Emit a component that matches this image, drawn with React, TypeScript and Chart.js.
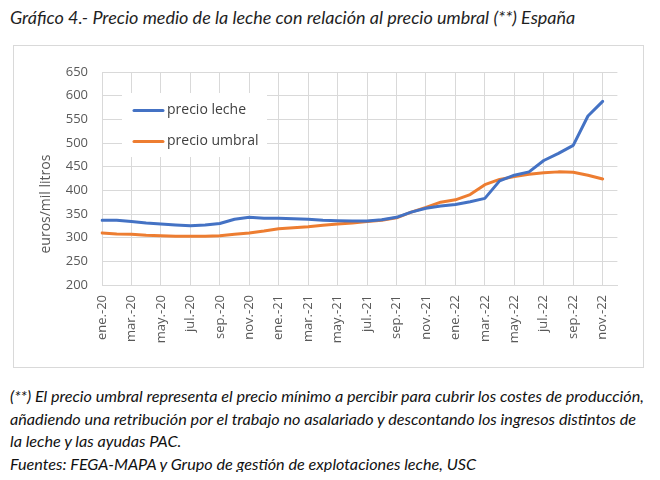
import { useEffect, useRef } from 'react';
import { Chart, registerables } from 'chart.js';

Chart.register(...registerables);

const months = [
  'ene.-20', 'feb.-20', 'mar.-20', 'abr.-20', 'may.-20', 'jun.-20', 'jul.-20', 'ago.-20', 'sep.-20', 'oct.-20', 'nov.-20', 'dic.-20',
  'ene.-21', 'feb.-21', 'mar.-21', 'abr.-21', 'may.-21', 'jun.-21', 'jul.-21', 'ago.-21', 'sep.-21', 'oct.-21', 'nov.-21', 'dic.-21',
  'ene.-22', 'feb.-22', 'mar.-22', 'abr.-22', 'may.-22', 'jun.-22', 'jul.-22', 'ago.-22', 'sep.-22', 'oct.-22', 'nov.-22', 'dic.-22',
];

const precioLeche = [
  337, 337, 334, 331, 329, 327, 325, 327, 330, 339, 343, 341,
  341, 340, 339, 337, 336, 335, 335, 338, 343, 354, 362, 367,
  370, 376, 383, 420, 432, 439, 463, 478, 495, 557, 588, null,
];

const precioUmbral = [
  310, 308, 307, 305, 304, 303, 303, 303, 304, 307, 310, 314,
  319, 321, 323, 326, 329, 331, 334, 337, 342, 354, 364, 375,
  380, 391, 412, 423, 429, 434, 437, 439, 438, 432, 424, null,
];

const seriesNames = ['precio leche', 'precio umbral'];
const yAxisTitle = 'euros/mil litros';
const titleText = 'Gráfico 4.- Precio medio de la leche con relación al precio umbral (**) España';
const noteLines = [
  '(**) El precio umbral representa el precio mínimo a percibir para cubrir los costes de producción,',
  'añadiendo una retribución por el trabajo no asalariado y descontando los ingresos distintos de',
  'la leche y las ayudas PAC.',
  'Fuentes: FEGA-MAPA y Grupo de gestión de explotaciones leche, USC',
];

const FONT = '"Open Sans", sans-serif';

const insideLegend = {
  id: 'insideLegend',
  afterDraw(chart: any) {
    const { ctx, chartArea } = chart;
    const x0 = chartArea.left + 20;
    const y0 = chartArea.top + 21;
    ctx.save();
    ctx.fillStyle = '#ffffff';
    ctx.fillRect(x0, y0, 145, 64);
    chart.data.datasets.forEach((ds: any, i: number) => {
      const cy = y0 + 17.5 + i * 31;
      ctx.strokeStyle = ds.borderColor;
      ctx.lineWidth = 3;
      ctx.lineCap = 'round';
      ctx.beginPath();
      ctx.moveTo(x0 + 12, cy);
      ctx.lineTo(x0 + 41, cy);
      ctx.stroke();
      ctx.fillStyle = '#404040';
      ctx.font = `14px ${FONT}`;
      ctx.textBaseline = 'middle';
      ctx.textAlign = 'left';
      ctx.fillText(ds.label, x0 + 45, cy);
    });
    ctx.restore();
  },
};

const yTitlePlugin = {
  id: 'yTitlePlugin',
  afterDraw(chart: any) {
    const { ctx, chartArea } = chart;
    ctx.save();
    ctx.translate(chartArea.left - 55.5, chartArea.top + (chartArea.bottom - chartArea.top) * 0.62);
    ctx.rotate(-Math.PI / 2);
    ctx.fillStyle = '#595959';
    ctx.font = `14px ${FONT}`;
    ctx.textAlign = 'center';
    ctx.textBaseline = 'middle';
    ctx.fillText(yAxisTitle, 0, 0);
    ctx.restore();
  },
};

export default function App() {
  const canvasRef = useRef<HTMLCanvasElement | null>(null);

  useEffect(() => {
    if (!canvasRef.current) return;
    const chart = new Chart(canvasRef.current, {
      type: 'line',
      data: {
        labels: months,
        datasets: [
          {
            label: seriesNames[0],
            data: precioLeche,
            borderColor: '#4472C4',
            backgroundColor: '#4472C4',
            borderWidth: 3,
            pointRadius: 0,
            tension: 0,
            borderCapStyle: 'round',
            borderJoinStyle: 'round',
          },
          {
            label: seriesNames[1],
            data: precioUmbral,
            borderColor: '#ED7D31',
            backgroundColor: '#ED7D31',
            borderWidth: 3,
            pointRadius: 0,
            tension: 0,
            borderCapStyle: 'round',
            borderJoinStyle: 'round',
          },
        ],
      },
      options: {
        animation: false,
        responsive: false,
        layout: { padding: { top: 27, right: 21, left: 0, bottom: 0 } },
        plugins: {
          legend: { display: false },
          tooltip: { enabled: false },
        },
        scales: {
          x: {
            type: 'category',
            offset: false,
            grid: {
              drawTicks: false,
              color: (c: any) => (c.index % 2 === 0 ? '#d9d9d9' : 'rgba(0,0,0,0)'),
              lineWidth: 1,
            },
            border: { color: '#d9d9d9' },
            ticks: {
              autoSkip: false,
              maxRotation: 90,
              minRotation: 90,
              padding: 10,
              color: '#595959',
              font: { family: FONT, size: 13 },
              callback: (_v: any, i: number) => (i % 2 === 0 ? months[i] : ''),
            },
            afterFit: (scale: any) => {
              scale.height = 82;
            },
          },
          y: {
            min: 200,
            max: 650,
            grid: { drawTicks: false, color: '#d9d9d9', lineWidth: 1 },
            border: { color: '#d9d9d9' },
            ticks: {
              stepSize: 50,
              padding: 14,
              color: '#595959',
              font: { family: FONT, size: 13 },
            },
            afterFit: (scale: any) => {
              scale.width = 89;
            },
          },
        },
      },
      plugins: [insideLegend, yTitlePlugin],
    });
    return () => chart.destroy();
  }, []);

  return (
    <div style={{ position: 'relative', width: 660, height: 480, margin: -8, background: '#fff', overflow: 'hidden' }}>
      <div
        style={{
          position: 'absolute',
          left: 10,
          top: 5,
          whiteSpace: 'nowrap',
          fontFamily: 'Lato, sans-serif',
          fontStyle: 'italic',
          fontSize: 18,
          lineHeight: '24px',
          color: '#1f1f1f',
        }}
      >
        {titleText}
      </div>
      <div
        style={{
          position: 'absolute',
          left: 13,
          top: 45,
          width: 631,
          height: 323,
          boxSizing: 'border-box',
          border: '1px solid #d9d9d9',
        }}
      />
      <canvas
        ref={canvasRef}
        width={630}
        height={322}
        style={{ position: 'absolute', left: 13, top: 45, width: 630, height: 322 }}
      />
      <div
        style={{
          position: 'absolute',
          left: 10,
          top: 385,
          whiteSpace: 'nowrap',
          fontFamily: 'Lato, sans-serif',
          fontStyle: 'italic',
          fontSize: 16.2,
          lineHeight: '22.5px',
          color: '#111',
        }}
      >
        {noteLines.map((l, i) => (
          <div key={i}>{l}</div>
        ))}
      </div>
    </div>
  );
}
